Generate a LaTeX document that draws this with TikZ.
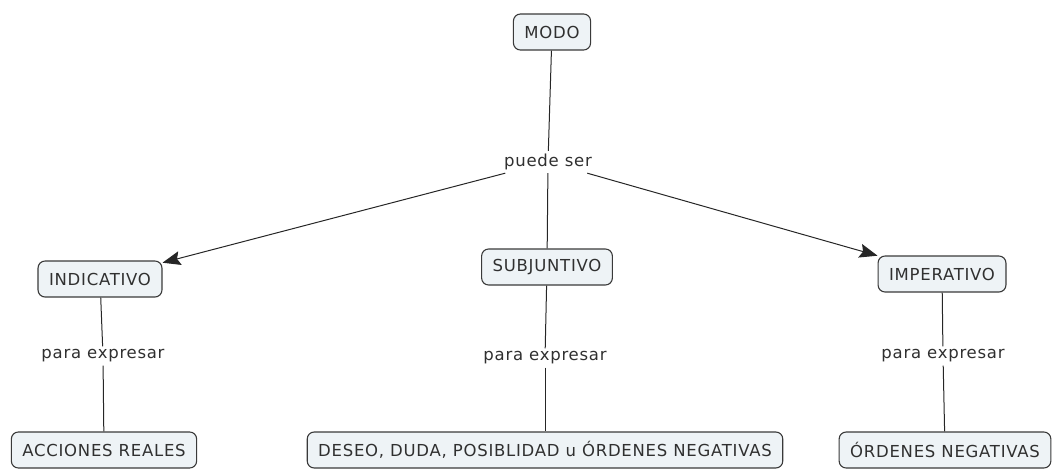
\documentclass[tikz,border=0pt]{standalone}
\usepackage{fontspec}
\setmainfont{DejaVu Sans}[LetterSpace=4.5]
\usetikzlibrary{arrows.meta}
\definecolor{boxfill}{HTML}{EEF3F6}
\definecolor{boxline}{HTML}{3A3A3A}
\definecolor{txt}{HTML}{303030}
\begin{document}
\begin{tikzpicture}
      [x=1pt,y=-1pt
      ,box/.style={draw=boxline,fill=boxfill,line width=1.1pt,rounded corners=7pt
        ,text=txt,font=\fontsize{16.5}{19}\selectfont,minimum height=36pt,inner xsep=11pt}
      ,lab/.style={text=txt,font=\fontsize{16.5}{19}\selectfont,fill=white,inner sep=3pt}
      ,lin/.style={draw=black!85,line width=1pt}
      ,arr/.style={lin,-{Stealth[length=18pt,width=14pt,inset=3pt]}}
      ]
        \useasboundingbox (0,0) rectangle (1060,474);
        % concepts
        \node[box] (modo) at (552,32) {MODO};
        \node[box] (ind) at (100,279) {INDICATIVO};
        \node[box] (subj) at (547,267) {SUBJUNTIVO};
        \node[box] (imp) at (942,274) {IMPERATIVO};
        \node[box] (acc) at (104,450) {ACCIONES REALES};
        \node[box] (des) at (545,450) {DESEO, DUDA, POSIBLIDAD u ÓRDENES NEGATIVAS};
        \node[box] (ord) at (945,450) {ÓRDENES NEGATIVAS};
        % linking phrases
        \node[lab] (pds) at (548,162) {puede ser};
        \node[lab] (pe1) at (103,356) {para expresar};
        \node[lab] (pe2) at (545,358) {para expresar};
        \node[lab] (pe3) at (943,356) {para expresar};
        % connectors
        \draw[lin] (modo) -- (pds);
        \draw[arr] (pds) -- (ind);
        \draw[lin] (pds) -- (subj);
        \draw[arr] (pds) -- (imp);
        \draw[lin] (ind) -- (pe1);
        \draw[lin] (pe1) -- (acc);
        \draw[lin] (subj) -- (pe2);
        \draw[lin] (pe2) -- (des);
        \draw[lin] (imp) -- (pe3);
        \draw[lin] (pe3) -- (ord);
      \end{tikzpicture}
\end{document}
